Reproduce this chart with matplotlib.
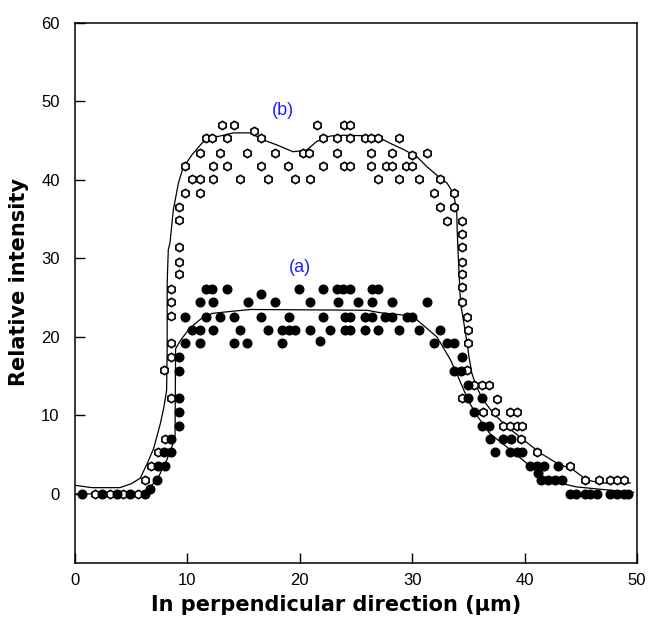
import matplotlib
matplotlib.use("Agg")
import matplotlib.pyplot as plt
import numpy as np

plt.rcParams['font.family'] = ['Liberation Sans', 'DejaVu Sans']

# ---- series (a): filled markers ----
a_x = [0.6, 2.4, 3.7, 4.9, 6.2, 6.7, 44.0, 44.6, 45.4, 45.8, 46.4, 47.6, 48.2, 48.8, 49.2,
       7.3, 41.5, 42.1, 42.7, 43.3, 41.2,
       7.4, 8.0, 40.5, 41.1, 41.7, 43.0,
       7.9, 8.5, 37.4, 38.7, 39.3, 39.8,
       8.5, 36.9, 38.1, 38.8,
       9.25, 36.2, 36.8,
       9.25, 35.5,
       9.25, 35.0, 36.2,
       35.0,
       9.25, 33.7, 34.3,
       9.25, 34.4,
       9.8, 11.1, 14.15, 15.3, 18.4, 21.8, 31.9, 33.1, 33.7,
       10.4, 11.1, 12.25, 14.7, 17.2, 18.4, 19.0, 19.6, 20.9, 22.7, 24.0, 24.5, 25.8, 27.0, 28.8, 30.6, 32.5,
       9.8, 11.65, 12.9, 14.15, 16.55, 19.0, 22.1, 24.0, 24.5, 25.8, 26.4, 27.6, 28.2, 29.5, 30.0,
       11.1, 12.25, 15.35, 17.8, 20.9, 23.4, 25.2, 26.4, 28.2, 31.3,
       11.65, 12.16, 13.55, 19.9, 22.1, 23.3, 23.8, 24.5, 26.4, 27.0, 16.55]
a_y = [0, 0, 0, 0, 0, 0.6, 0, 0, 0, 0, 0, 0, 0, 0, 0,
       1.8, 1.8, 1.8, 1.8, 1.8, 2.7,
       3.5, 3.5, 3.5, 3.5, 3.5, 3.5,
       5.3, 5.3, 5.3, 5.3, 5.3, 5.3,
       7.0, 7.0, 7.0, 7.0,
       8.7, 8.7, 8.7,
       10.4, 10.4,
       12.2, 12.2, 12.2,
       13.9,
       15.7, 15.7, 15.7,
       17.4, 17.4,
       19.2, 19.2, 19.2, 19.2, 19.2, 19.5, 19.2, 19.2, 19.2,
       20.9, 20.9, 20.9, 20.9, 20.9, 20.9, 20.9, 20.9, 20.9, 20.9, 20.9, 20.9, 20.9, 20.9, 20.9, 20.9, 20.9,
       22.6, 22.6, 22.6, 22.6, 22.6, 22.6, 22.6, 22.6, 22.6, 22.6, 22.6, 22.6, 22.6, 22.6, 22.6,
       24.4, 24.4, 24.4, 24.4, 24.4, 24.4, 24.4, 24.4, 24.4, 24.4,
       26.1, 26.1, 26.1, 26.1, 26.1, 26.1, 26.1, 26.1, 26.1, 26.1, 25.5]

# ---- series (b): open markers ----
b_x = [1.8, 3.1, 4.3, 5.6, 6.2, 6.8, 7.4, 8.0, 8.5, 7.9, 8.5, 8.5, 8.5, 8.5, 8.5,
       9.25, 9.25, 9.25, 9.25, 9.25, 9.8, 11.1,
       10.4, 11.1, 12.25, 14.7, 17.2, 19.6, 20.9, 27.0, 28.85, 30.6, 32.5,
       9.8, 12.25, 13.5, 16.55, 18.95, 22.1, 23.96, 24.47, 26.3, 27.67, 28.2, 29.45, 29.96,
       11.1, 12.9, 15.3, 17.8, 20.26, 20.85, 23.3, 26.3, 28.2, 31.3, 30.0,
       11.65, 12.16, 13.5, 16.55, 22.1, 23.3, 24.5, 25.8, 26.3, 27.0, 28.85, 15.95,
       13.1, 14.15, 21.5, 23.96, 24.47,
       31.9, 33.7, 32.5, 33.7, 33.1, 34.4, 34.4, 34.4, 34.4, 34.4, 34.4, 34.4,
       34.85, 35.0, 35.0, 34.85, 35.5, 36.2, 36.8, 34.4, 37.5, 36.3, 37.4, 38.7, 39.3,
       38.1, 38.7, 39.3, 39.8, 39.7, 41.1, 44.0, 45.4, 46.6, 47.6, 48.2, 48.8]
b_y = [0, 0, 0, 0, 1.8, 3.5, 5.3, 7.0, 12.2, 15.8, 17.4, 19.2, 22.7, 24.4, 26.1,
       28.0, 29.6, 31.4, 34.9, 36.5, 38.4, 38.4,
       40.1, 40.1, 40.1, 40.1, 40.1, 40.1, 40.1, 40.1, 40.1, 40.1, 40.1,
       41.8, 41.8, 41.8, 41.8, 41.8, 41.8, 41.8, 41.8, 41.8, 41.8, 41.8, 41.8, 41.8,
       43.5, 43.5, 43.5, 43.5, 43.5, 43.5, 43.5, 43.5, 43.5, 43.5, 43.2,
       45.3, 45.3, 45.3, 45.3, 45.3, 45.3, 45.3, 45.3, 45.3, 45.3, 45.3, 46.2,
       47.0, 47.0, 47.0, 47.0, 47.0,
       38.4, 38.4, 36.5, 36.5, 34.8, 34.8, 33.1, 31.4, 29.6, 28.0, 26.4, 24.4,
       22.6, 20.9, 19.2, 15.8, 13.9, 13.9, 13.9, 12.2, 12.1, 10.4, 10.4, 10.4, 10.4,
       8.7, 8.7, 8.7, 8.7, 7.0, 5.3, 3.5, 1.8, 1.8, 1.8, 1.8, 1.8]

# ---- smoothed curves ----
line_a_x = [0.0, 5.8, 6.4, 7.3, 8.16, 8.75, 8.9, 8.95, 9.4, 10.2, 11.2, 12.2, 13.5, 15.6,
            26.0, 27.1, 29.8, 30.4, 31.3, 32.2, 33.4, 34.0, 34.6, 35.1, 35.85, 36.9,
            38.4, 40.2, 41.7, 43.1, 44.6, 46.7, 49.7]
line_a_y = [0.0, 0.0, 0.5, 1.8, 4.3, 6.5, 7.3, 18.5, 19.6, 21.1, 22.3, 23.0, 23.2, 23.5,
            23.4, 23.1, 22.7, 22.2, 21.1, 20.0, 17.1, 15.2, 13.2, 11.6, 9.8, 7.7,
            6.0, 3.9, 2.2, 1.4, 0.9, 0.6, 0.2]

line_b_x = [0.0, 1.5, 4.0, 5.0, 5.8, 6.4, 7.0, 7.6, 7.9, 8.15, 8.2, 8.2, 8.3, 8.45, 8.75,
            9.2, 9.6, 10.4, 11.3, 12.0, 13.5, 14.1, 15.6, 16.75, 17.9, 19.4, 20.6, 21.5,
            22.7, 23.9, 26.8, 28.0, 29.2, 30.4, 31.3, 32.2, 33.1, 33.66, 33.96, 34.0,
            34.1, 34.3, 34.7, 35.05, 35.3, 35.7, 36.3, 37.2, 38.4, 39.9, 41.4, 42.9,
            44.3, 45.5, 46.7, 49.4]
line_b_y = [1.1, 0.8, 0.8, 1.3, 2.0, 3.8, 5.8, 9.0, 11.0, 13.2, 18.3, 26.8, 31.1, 32.0, 36.2,
            39.6, 41.5, 43.2, 44.7, 45.3, 45.8, 46.0, 46.0, 45.1, 44.5, 43.6, 43.8, 44.9,
            45.6, 45.7, 45.6, 44.7, 43.9, 43.0, 41.7, 40.6, 39.6, 38.3, 36.2, 33.6,
            30.2, 24.3, 20.9, 17.5, 15.4, 13.7, 12.0, 10.3, 8.6, 6.9, 5.2, 3.9,
            3.1, 1.8, 1.4, 1.4]

x_ticks = [0, 10, 20, 30, 40, 50]
y_ticks = [0, 10, 20, 30, 40, 50, 60]

fig = plt.figure(figsize=(6.49, 6.19), dpi=100)
ax = fig.add_axes([75/649, 1-563/619, (637-75)/649, (563-23)/619])

ax.plot(line_b_x, line_b_y, color='black', lw=0.9, zorder=2)
ax.plot(line_a_x, line_a_y, color='black', lw=0.9, zorder=2)
ax.plot(b_x, b_y, linestyle='none', marker='h', markersize=6, markerfacecolor='white',
        markeredgecolor='black', markeredgewidth=1.2, zorder=3)
ax.plot(a_x, a_y, linestyle='none', marker='o', markersize=6.2, markerfacecolor='black',
        markeredgecolor='black', zorder=3)

ax.text(20.0, 28.8, '(a)', color='#2020ff', fontsize=13, ha='center', va='center')
ax.text(18.5, 48.8, '(b)', color='#2020ff', fontsize=13, ha='center', va='center')

ax.set_xlim(0, 50)
ax.set_ylim(-8.8, 60)
ax.set_xticks(x_ticks)
ax.set_yticks(y_ticks)
ax.tick_params(direction='in', length=7, width=1.0, labelsize=12)
ax.tick_params(axis='y', pad=11)
ax.tick_params(axis='x', pad=7)
for s in ax.spines.values():
    s.set_linewidth(1.1)

ax.set_xlabel('In perpendicular direction (\u00b5m)', fontsize=15, fontweight='bold',
              family=['DejaVu Sans'])
ax.set_ylabel('Relative intensity', fontsize=15, fontweight='bold',
              family=['DejaVu Sans'])
ax.xaxis.set_label_coords(0.464, -0.06)
ax.yaxis.set_label_coords(-0.082, 0.521)

fig.savefig('out.png', dpi=100)
